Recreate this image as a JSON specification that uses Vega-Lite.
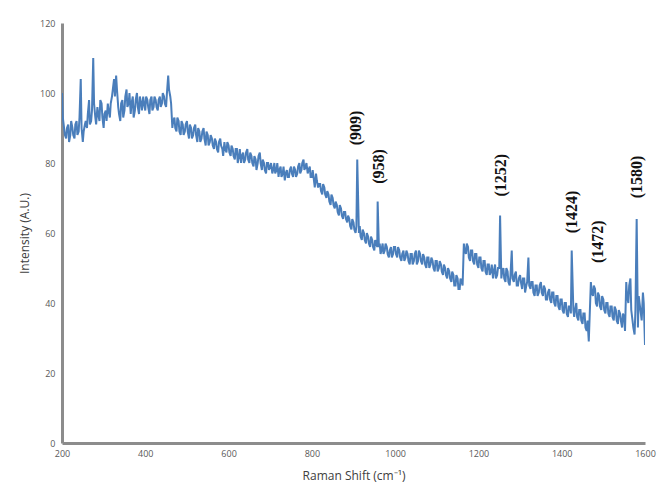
{
  "$schema": "https://vega.github.io/schema/vega-lite/v6.json",
  "width": 583,
  "height": 420,
  "autosize": {"type": "none"},
  "padding": {"left": 62, "top": 23, "right": 12, "bottom": 42},
  "background": "white",
  "config": {"view": {"stroke": null}},
  "datasets": {
    "spectrum": [
      {"x":200,"y":100},{"x":205,"y":90},{"x":210,"y":87},{"x":215,"y":91},{"x":220,"y":88},{"x":225,"y":90},{"x":230,"y":87},{"x":235,"y":92},{"x":240,"y":89},{"x":245,"y":104},
      {"x":250,"y":86},{"x":255,"y":91},{"x":260,"y":90},{"x":265,"y":98},{"x":270,"y":92},{"x":275,"y":110},{"x":280,"y":93},{"x":285,"y":96},{"x":290,"y":92},{"x":295,"y":97},
      {"x":300,"y":90},{"x":305,"y":95},{"x":310,"y":97},{"x":315,"y":93},{"x":320,"y":99},{"x":325,"y":104},{"x":330,"y":105},{"x":335,"y":96},{"x":340,"y":92},{"x":345,"y":98},
      {"x":350,"y":95},{"x":355,"y":101},{"x":360,"y":97},{"x":365,"y":94},{"x":370,"y":99},{"x":375,"y":95},{"x":380,"y":100},{"x":385,"y":94},{"x":390,"y":97},{"x":395,"y":99},
      {"x":400,"y":95},{"x":405,"y":98},{"x":410,"y":94},{"x":415,"y":99},{"x":420,"y":96},{"x":425,"y":98},{"x":430,"y":95},{"x":435,"y":99},{"x":440,"y":97},{"x":445,"y":99},
      {"x":450,"y":96},{"x":455,"y":105},{"x":460,"y":99},{"x":465,"y":90},{"x":470,"y":93},{"x":475,"y":89},{"x":480,"y":92},{"x":485,"y":88},{"x":490,"y":91},{"x":495,"y":89},
      {"x":500,"y":92},{"x":505,"y":87},{"x":510,"y":90},{"x":515,"y":88},{"x":520,"y":91},{"x":525,"y":86},{"x":530,"y":89},{"x":535,"y":87},{"x":540,"y":90},{"x":545,"y":85},
      {"x":550,"y":88},{"x":555,"y":86},{"x":560,"y":87},{"x":565,"y":84},{"x":570,"y":86},{"x":575,"y":83},{"x":580,"y":87},{"x":585,"y":84},{"x":590,"y":86},{"x":595,"y":83},
      {"x":600,"y":85},{"x":605,"y":82},{"x":610,"y":84},{"x":615,"y":81},{"x":620,"y":84},{"x":625,"y":82},{"x":630,"y":80},{"x":635,"y":83},{"x":640,"y":81},{"x":645,"y":84},
      {"x":650,"y":80},{"x":655,"y":82},{"x":660,"y":79},{"x":665,"y":81},{"x":670,"y":80},{"x":675,"y":83},{"x":680,"y":78},{"x":685,"y":80},{"x":690,"y":77},{"x":695,"y":80},
      {"x":700,"y":79},{"x":705,"y":77},{"x":710,"y":80},{"x":715,"y":78},{"x":720,"y":76},{"x":725,"y":79},{"x":730,"y":77},{"x":735,"y":75},{"x":740,"y":78},{"x":745,"y":76},
      {"x":750,"y":79},{"x":755,"y":76},{"x":760,"y":78},{"x":765,"y":77},{"x":770,"y":80},{"x":775,"y":78},{"x":780,"y":81},{"x":785,"y":79},{"x":790,"y":77},{"x":795,"y":79},
      {"x":800,"y":76},{"x":805,"y":75},{"x":810,"y":77},{"x":815,"y":73},{"x":820,"y":74},{"x":825,"y":71},{"x":830,"y":73},{"x":835,"y":70},{"x":840,"y":71},{"x":845,"y":68},
      {"x":850,"y":70},{"x":855,"y":67},{"x":860,"y":68},{"x":865,"y":65},{"x":870,"y":67},{"x":875,"y":64},{"x":880,"y":66},{"x":885,"y":63},{"x":890,"y":64},{"x":895,"y":61},
      {"x":900,"y":63},{"x":905,"y":60},{"x":909,"y":81},{"x":913,"y":60},{"x":915,"y":62},{"x":920,"y":58},{"x":925,"y":60},{"x":930,"y":57},{"x":935,"y":59},{"x":940,"y":56},
      {"x":945,"y":58},{"x":950,"y":55},{"x":955,"y":57},{"x":958,"y":69},{"x":961,"y":56},{"x":965,"y":54},{"x":970,"y":57},{"x":975,"y":55},{"x":980,"y":56},{"x":985,"y":53},
      {"x":990,"y":56},{"x":995,"y":54},{"x":1000,"y":56},{"x":1005,"y":53},{"x":1010,"y":55},{"x":1015,"y":52},{"x":1020,"y":55},{"x":1025,"y":53},{"x":1030,"y":54},{"x":1035,"y":51},
      {"x":1040,"y":54},{"x":1045,"y":52},{"x":1050,"y":55},{"x":1055,"y":52},{"x":1060,"y":54},{"x":1065,"y":51},{"x":1070,"y":53},{"x":1075,"y":50},{"x":1080,"y":53},{"x":1085,"y":51},
      {"x":1090,"y":52},{"x":1095,"y":49},{"x":1100,"y":52},{"x":1105,"y":50},{"x":1110,"y":51},{"x":1115,"y":48},{"x":1120,"y":50},{"x":1125,"y":47},{"x":1130,"y":49},{"x":1135,"y":46},
      {"x":1140,"y":48},{"x":1145,"y":45},{"x":1150,"y":47},{"x":1155,"y":44},{"x":1160,"y":46},{"x":1165,"y":57},{"x":1170,"y":54},{"x":1175,"y":56},{"x":1180,"y":52},{"x":1185,"y":55},
      {"x":1190,"y":51},{"x":1195,"y":54},{"x":1200,"y":50},{"x":1205,"y":53},{"x":1210,"y":49},{"x":1215,"y":52},{"x":1220,"y":48},{"x":1225,"y":51},{"x":1230,"y":49},{"x":1235,"y":47},
      {"x":1240,"y":51},{"x":1245,"y":48},{"x":1250,"y":50},{"x":1252,"y":65},{"x":1255,"y":47},{"x":1260,"y":50},{"x":1265,"y":46},{"x":1270,"y":49},{"x":1275,"y":45},{"x":1280,"y":55},
      {"x":1285,"y":46},{"x":1290,"y":49},{"x":1295,"y":45},{"x":1300,"y":48},{"x":1305,"y":44},{"x":1310,"y":47},{"x":1315,"y":45},{"x":1320,"y":53},{"x":1325,"y":44},{"x":1330,"y":46},
      {"x":1335,"y":42},{"x":1340,"y":45},{"x":1345,"y":43},{"x":1350,"y":46},{"x":1355,"y":42},{"x":1360,"y":44},{"x":1365,"y":41},{"x":1370,"y":44},{"x":1375,"y":40},{"x":1380,"y":43},
      {"x":1385,"y":39},{"x":1390,"y":42},{"x":1395,"y":38},{"x":1400,"y":41},{"x":1405,"y":37},{"x":1410,"y":40},{"x":1415,"y":36},{"x":1420,"y":39},{"x":1424,"y":55},{"x":1428,"y":38},
      {"x":1430,"y":36},{"x":1435,"y":40},{"x":1440,"y":35},{"x":1445,"y":38},{"x":1450,"y":34},{"x":1455,"y":37},{"x":1460,"y":32},{"x":1465,"y":29},{"x":1470,"y":46},{"x":1475,"y":42},
      {"x":1480,"y":44},{"x":1485,"y":39},{"x":1490,"y":42},{"x":1495,"y":38},{"x":1500,"y":41},{"x":1505,"y":37},{"x":1510,"y":40},{"x":1515,"y":36},{"x":1520,"y":39},{"x":1525,"y":35},
      {"x":1530,"y":38},{"x":1535,"y":34},{"x":1540,"y":37},{"x":1545,"y":33},{"x":1550,"y":36},{"x":1555,"y":46},{"x":1560,"y":40},{"x":1565,"y":47},{"x":1570,"y":35},{"x":1575,"y":31},
      {"x":1580,"y":64},{"x":1583,"y":33},{"x":1585,"y":42},{"x":1590,"y":37},{"x":1595,"y":43},{"x":1600,"y":28},
      {"x":202,"y":93},{"x":207,"y":88},{"x":212,"y":90},{"x":217,"y":86},{"x":222,"y":92},{"x":227,"y":88},{"x":232,"y":91},{"x":237,"y":88},{"x":242,"y":93},{"x":247,"y":90},
      {"x":252,"y":89},{"x":257,"y":92},{"x":262,"y":94},{"x":267,"y":91},{"x":272,"y":95},{"x":277,"y":97},{"x":282,"y":91},{"x":287,"y":94},{"x":292,"y":98},{"x":297,"y":93},
      {"x":302,"y":94},{"x":307,"y":92},{"x":312,"y":95},{"x":317,"y":97},{"x":322,"y":101},{"x":327,"y":99},{"x":332,"y":101},{"x":337,"y":94},{"x":342,"y":97},{"x":347,"y":93},
      {"x":352,"y":99},{"x":357,"y":96},{"x":362,"y":100},{"x":367,"y":97},{"x":372,"y":93},{"x":377,"y":98},{"x":382,"y":96},{"x":387,"y":99},{"x":392,"y":95},{"x":397,"y":97},
      {"x":402,"y":99},{"x":407,"y":96},{"x":412,"y":98},{"x":417,"y":95},{"x":422,"y":99},{"x":427,"y":96},{"x":432,"y":98},{"x":437,"y":96},{"x":442,"y":100},{"x":447,"y":97},
      {"x":452,"y":100},{"x":457,"y":101},{"x":462,"y":97},{"x":467,"y":92},{"x":472,"y":90},{"x":477,"y":93},{"x":482,"y":89},{"x":487,"y":92},{"x":492,"y":88},{"x":497,"y":91},
      {"x":502,"y":89},{"x":507,"y":91},{"x":512,"y":87},{"x":517,"y":90},{"x":522,"y":88},{"x":527,"y":90},{"x":532,"y":86},{"x":537,"y":89},{"x":542,"y":87},{"x":547,"y":89},
      {"x":552,"y":85},{"x":557,"y":88},{"x":562,"y":85},{"x":567,"y":87},{"x":572,"y":84},{"x":577,"y":86},{"x":582,"y":85},{"x":587,"y":82},{"x":592,"y":84},{"x":597,"y":86},
      {"x":602,"y":83},{"x":607,"y":85},{"x":612,"y":82},{"x":617,"y":84},{"x":622,"y":80},{"x":627,"y":84},{"x":632,"y":82},{"x":637,"y":80},{"x":642,"y":83},{"x":647,"y":81},
      {"x":652,"y":83},{"x":657,"y":80},{"x":662,"y":82},{"x":667,"y":78},{"x":672,"y":82},{"x":677,"y":80},{"x":682,"y":81},{"x":687,"y":78},{"x":692,"y":80},{"x":697,"y":78},
      {"x":702,"y":80},{"x":707,"y":78},{"x":712,"y":77},{"x":717,"y":80},{"x":722,"y":78},{"x":727,"y":76},{"x":732,"y":79},{"x":737,"y":77},{"x":742,"y":76},{"x":747,"y":78},
      {"x":752,"y":77},{"x":757,"y":79},{"x":762,"y":76},{"x":767,"y":79},{"x":772,"y":77},{"x":777,"y":80},{"x":782,"y":78},{"x":787,"y":80},{"x":792,"y":78},{"x":797,"y":76},
      {"x":802,"y":78},{"x":807,"y":73},{"x":812,"y":75},{"x":817,"y":74},{"x":822,"y":72},{"x":827,"y":74},{"x":832,"y":71},{"x":837,"y":72},{"x":842,"y":69},{"x":847,"y":71},
      {"x":852,"y":68},{"x":857,"y":69},{"x":862,"y":66},{"x":867,"y":68},{"x":872,"y":65},{"x":877,"y":66},{"x":882,"y":64},{"x":887,"y":65},{"x":892,"y":62},{"x":897,"y":64},
      {"x":902,"y":61},{"x":907,"y":62},{"x":917,"y":59},{"x":922,"y":61},{"x":927,"y":58},{"x":932,"y":60},{"x":937,"y":57},{"x":942,"y":59},{"x":947,"y":56},{"x":952,"y":58},
      {"x":957,"y":56},{"x":963,"y":57},{"x":967,"y":55},{"x":972,"y":54},{"x":977,"y":57},{"x":982,"y":54},{"x":987,"y":55},{"x":992,"y":53},{"x":997,"y":56},{"x":1002,"y":54},
      {"x":1007,"y":56},{"x":1012,"y":53},{"x":1017,"y":54},{"x":1022,"y":52},{"x":1027,"y":55},{"x":1032,"y":52},{"x":1037,"y":54},{"x":1042,"y":51},{"x":1047,"y":54},{"x":1052,"y":51},
      {"x":1057,"y":55},{"x":1062,"y":52},{"x":1067,"y":54},{"x":1072,"y":51},{"x":1077,"y":53},{"x":1082,"y":50},{"x":1087,"y":53},{"x":1092,"y":50},{"x":1097,"y":52},{"x":1102,"y":49},
      {"x":1107,"y":52},{"x":1112,"y":49},{"x":1117,"y":51},{"x":1122,"y":48},{"x":1127,"y":50},{"x":1132,"y":47},{"x":1137,"y":49},{"x":1142,"y":45},{"x":1147,"y":48},{"x":1152,"y":44},
      {"x":1157,"y":47},{"x":1162,"y":45},{"x":1167,"y":55},{"x":1172,"y":57},{"x":1177,"y":53},{"x":1182,"y":55},{"x":1187,"y":52},{"x":1192,"y":54},{"x":1197,"y":51},{"x":1202,"y":53},
      {"x":1207,"y":50},{"x":1212,"y":52},{"x":1217,"y":49},{"x":1222,"y":51},{"x":1227,"y":48},{"x":1232,"y":51},{"x":1237,"y":49},{"x":1242,"y":47},{"x":1247,"y":50},{"x":1257,"y":49},
      {"x":1262,"y":47},{"x":1267,"y":50},{"x":1272,"y":46},{"x":1277,"y":48},{"x":1282,"y":47},{"x":1287,"y":48},{"x":1292,"y":45},{"x":1297,"y":47},{"x":1302,"y":46},{"x":1307,"y":47},
      {"x":1312,"y":43},{"x":1317,"y":46},{"x":1322,"y":45},{"x":1327,"y":46},{"x":1332,"y":43},{"x":1337,"y":45},{"x":1342,"y":42},{"x":1347,"y":45},{"x":1352,"y":43},{"x":1357,"y":45},
      {"x":1362,"y":41},{"x":1367,"y":43},{"x":1372,"y":41},{"x":1377,"y":43},{"x":1382,"y":40},{"x":1387,"y":42},{"x":1392,"y":39},{"x":1397,"y":41},{"x":1402,"y":38},{"x":1407,"y":40},
      {"x":1412,"y":37},{"x":1417,"y":39},{"x":1422,"y":37},{"x":1432,"y":38},{"x":1437,"y":36},{"x":1442,"y":38},{"x":1447,"y":35},{"x":1452,"y":37},{"x":1457,"y":33},{"x":1462,"y":35},
      {"x":1472,"y":43},{"x":1477,"y":45},{"x":1482,"y":40},{"x":1487,"y":43},{"x":1492,"y":39},{"x":1497,"y":42},{"x":1502,"y":38},{"x":1507,"y":40},{"x":1512,"y":37},{"x":1517,"y":39},
      {"x":1522,"y":36},{"x":1527,"y":39},{"x":1532,"y":35},{"x":1537,"y":38},{"x":1542,"y":35},{"x":1547,"y":37},{"x":1552,"y":32},{"x":1557,"y":42},{"x":1562,"y":45},{"x":1567,"y":38},
      {"x":1572,"y":33},{"x":1577,"y":38},{"x":1587,"y":40},{"x":1592,"y":35},{"x":1597,"y":40}
    ],
    "labels": [
      {"x":907,"y":90,"label":"(909)"},
      {"x":962,"y":79,"label":"(958)"},
      {"x":1254,"y":76.5,"label":"(1252)"},
      {"x":1425,"y":66,"label":"(1424)"},
      {"x":1488,"y":57.5,"label":"(1472)"},
      {"x":1581,"y":76,"label":"(1580)"}
    ]
  },
  "layer": [
    {
      "data": {"name": "spectrum"},
      "mark": {"type": "line", "color": "#4a7ebb", "strokeWidth": 2, "clip": true},
      "encoding": {
        "x": {
          "field": "x", "type": "quantitative",
          "scale": {"domain": [200, 1600], "nice": false},
          "axis": {
            "title": "Raman Shift (cm⁻¹)",
            "values": [200, 400, 600, 800, 1000, 1200, 1400, 1600],
            "format": "d",
            "labelFlush": false,
            "grid": false, "ticks": false,
            "domainColor": "#8c8c8c", "domainWidth": 3,
            "labelFont": "Open Sans", "labelFontSize": 9, "labelColor": "#595959",
            "labelPadding": 6,
            "titleFont": "Open Sans", "titleFontSize": 12, "titleFontWeight": "normal", "titleColor": "#404040",
            "titlePadding": 12
          }
        },
        "y": {
          "field": "y", "type": "quantitative",
          "scale": {"domain": [0, 120], "nice": false},
          "axis": {
            "title": "Intensity (A.U.)",
            "values": [0, 20, 40, 60, 80, 100, 120],
            "format": "d",
            "labelFlush": false,
            "grid": false, "ticks": false,
            "domainColor": "#8c8c8c", "domainWidth": 3,
            "labelFont": "Open Sans", "labelFontSize": 9, "labelColor": "#595959",
            "labelPadding": 7,
            "titleFont": "Open Sans", "titleFontSize": 12, "titleFontWeight": "normal", "titleColor": "#404040",
            "titlePadding": 8
          }
        }
      }
    },
    {
      "data": {"name": "labels"},
      "mark": {"type": "text", "angle": 270, "align": "center", "baseline": "middle", "font": "Liberation Serif", "fontWeight": "bold", "fontSize": 16, "color": "#111111"},
      "encoding": {
        "x": {"field": "x", "type": "quantitative"},
        "y": {"field": "y", "type": "quantitative"},
        "text": {"field": "label", "type": "nominal"}
      }
    }
  ]
}
